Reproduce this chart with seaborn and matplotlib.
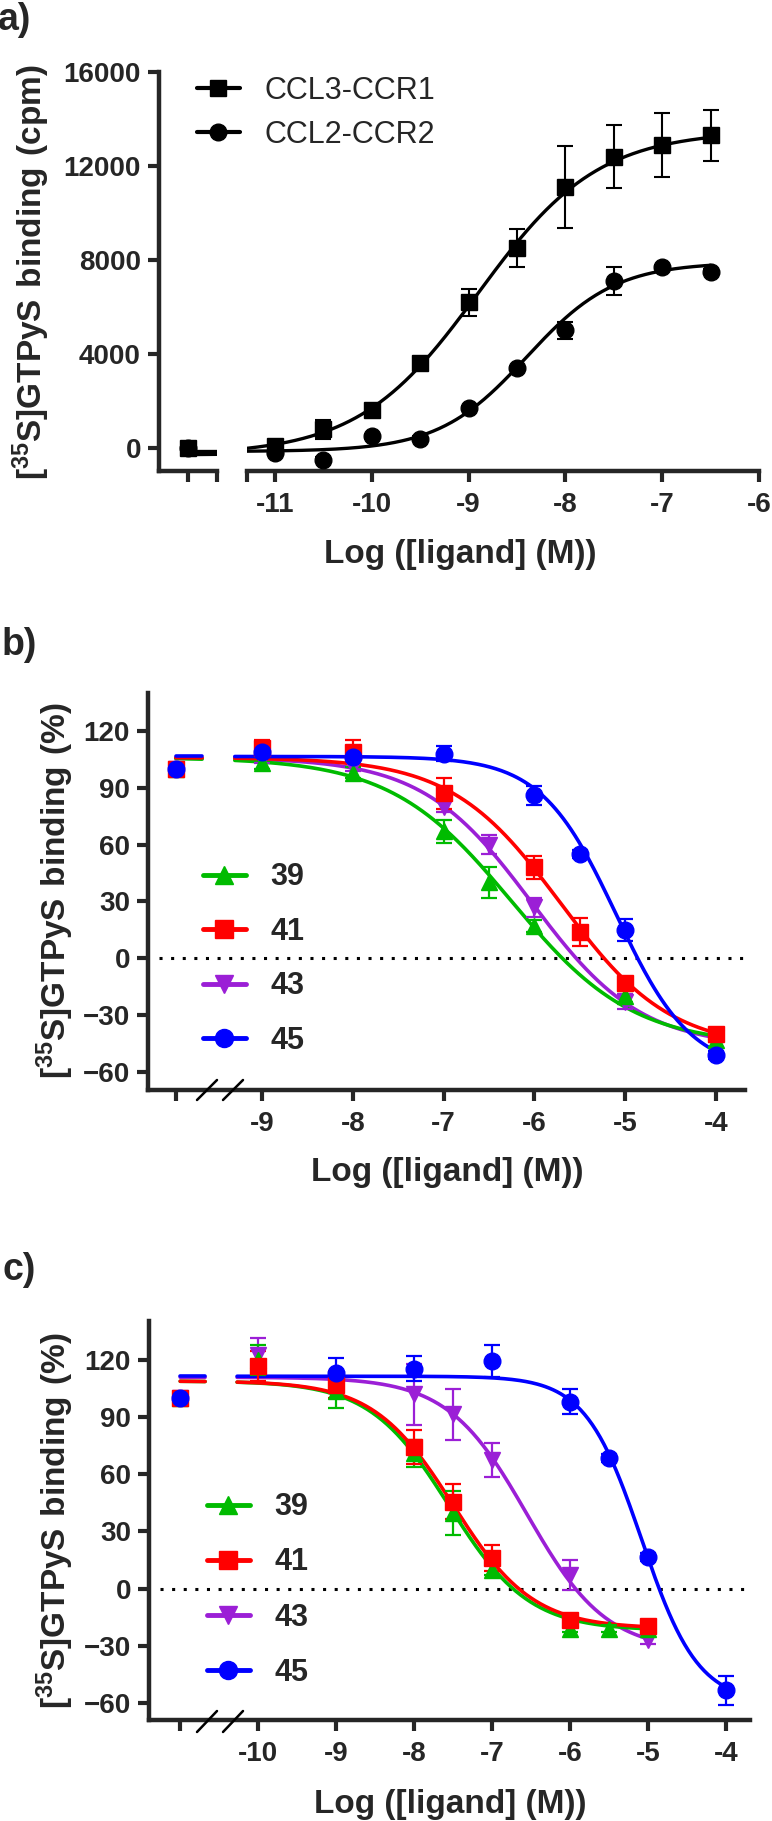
import numpy as np
import pandas as pd
import matplotlib
matplotlib.use('Agg')
import matplotlib.pyplot as plt
import seaborn as sns
from matplotlib.lines import Line2D

W, H = 772, 1821

sns.set_style('ticks')
plt.rcParams['font.family'] = ['Liberation Sans', 'DejaVu Sans']
plt.rcParams['font.weight'] = 'bold'
plt.rcParams['mathtext.fontset'] = 'custom'
plt.rcParams['mathtext.rm'] = 'Liberation Sans'
plt.rcParams['mathtext.bf'] = 'Liberation Sans:bold'

# ---- panel a: agonist curves (cpm) ----
a_labels = ['CCL3-CCR1', 'CCL2-CCR2']
a_markers = ['s', 'o']
a_ctrl_x = -13.0
a_x = [-11, -10.5, -10, -9.5, -9, -8.5, -8, -7.5, -7, -6.5]
a_ctrl_y = [0, 0]
a_y = [
    [100, 800, 1600, 3600, 6200, 8500, 11100, 12400, 12900, 13300],
    [-200, -500, 500, 400, 1700, 3400, 5000, 7100, 7700, 7500],
]
a_err = [
    [150, 400, 150, 150, 570, 800, 1750, 1350, 1350, 1100],
    [100, 100, 100, 100, 100, 100, 350, 600, 100, 100],
]
# 4PL fit: bottom, top, logEC50, hill
a_fit = [[-300, 13500, -8.9, 0.7], [-150, 7900, -8.4, 0.95]]

# ---- panels b and c: compounds (% binding) ----
compounds = ['39', '41', '43', '45']
colors = {'39': '#00BB00', '41': '#FF0000', '43': '#9B1FD6', '45': '#0000FF'}
markers = {'39': '^', '41': 's', '43': 'v', '45': 'o'}
draw_order = ['43', '39', '41', '45']

b_ctrl_x = -9.95
b_x = {
    '39': [-9, -8, -7, -6.5, -6, -5, -4],
    '41': [-9, -8, -7, -6, -5.5, -5, -4],
    '43': [-9, -8, -7, -6.5, -6, -5, -4],
    '45': [-9, -8, -7, -6, -5.5, -5, -4],
}
b_y = {
    '39': [103, 98, 67, 40, 17, -20, -43],
    '41': [111, 109, 87, 48, 14, -13, -40],
    '43': [105, 101, 80, 60, 27, -23, -42],
    '45': [109, 106, 108, 86, 55, 15, -51],
}
b_err = {
    '39': [3, 3, 6, 8, 3, 3, 4],
    '41': [4, 6, 8, 6, 7.5, 3, 3],
    '43': [2, 2, 3, 5, 5, 4, 2],
    '45': [3, 2, 4, 5, 2, 6, 2],
}
b_fit = {
    '39': [-46, 106, -6.25, -0.65],
    '41': [-48, 106, -5.71, -0.72],
    '43': [-47, 106, -6.03, -0.72],
    '45': [-60, 106.5, -5.1, -1.05],
}

c_ctrl_x = -11.0
c_x = {
    '39': [-10, -9, -8, -7.5, -7, -6, -5.5, -5],
    '41': [-10, -9, -8, -7.5, -7, -6, -5],
    '43': [-10, -9, -8, -7.5, -7, -6, -5],
    '45': [-9, -8, -7, -6, -5.5, -5, -4],
}
c_y = {
    '39': [120, 104, 71, 39.5, 10, -21, -21, -21],
    '41': [117, 107, 74.5, 45.7, 16, -16.7, -19.8],
    '43': [122.7, 110, 102, 91.5, 67.6, 7, -27],
    '45': [113.3, 115.4, 119.6, 98.2, 68.6, 16.6, -53.5],
}
c_err = {
    '39': [8, 9, 7, 11.5, 3, 2, 2, 2],
    '41': [8, 7, 9, 9, 7, 3, 3],
    '43': [9, 3, 16, 13.5, 9, 8, 2],
    '45': [8, 6.5, 8.5, 6.5, 2, 2, 7.5],
}
c_fit = {
    '39': [-22, 109, -7.55, -0.85],
    '41': [-21, 109, -7.5, -0.85],
    '43': [-33, 111, -6.55, -0.85],
    '45': [-60, 111.5, -5.08, -1.2],
}
ctrl_y = 100


def fit_curve(x, bottom, top, logec50, hill):
    return bottom + (top - bottom) / (1 + 10 ** ((logec50 - x) * hill))


def add_ax(fig, x0, x1, y0, y1):
    return fig.add_axes([x0 / W, 1 - y1 / H, (x1 - x0) / W, (y1 - y0) / H])


def style_ax(ax):
    for sp in ['top', 'right']:
        ax.spines[sp].set_visible(False)
    for sp in ['left', 'bottom']:
        ax.spines[sp].set_linewidth(3.2)
        ax.spines[sp].set_capstyle('projecting')
    ax.tick_params(width=3, length=8, labelsize=20, direction='out')
    ax.tick_params(axis='x', pad=7)
    ax.tick_params(axis='y', pad=5)
    ax.set_facecolor('none')


def px(x, y):
    return x / W, 1 - y / H


fig = plt.figure(figsize=(W / 100, H / 100), dpi=100)

# ---------------- panel a ----------------
ax_l = add_ax(fig, 159, 217, 72, 471)
ax_r = add_ax(fig, 247, 759, 72, 471)
for ax in (ax_l, ax_r):
    style_ax(ax)
    ax.set_ylim(-979, 16000)
ax_l.set_xlim(-13.3, -12.7)
ax_r.set_xlim(-11.29, -6)
ax_r.spines['left'].set_visible(False)
ax_r.tick_params(axis='y', left=False, labelleft=False)
ax_l.set_yticks([0, 4000, 8000, 12000, 16000])
ax_l.set_xticks([-13, -12.7])
ax_l.set_xticklabels(['', ''])
ax_r.set_xticks([-11.29, -11, -10, -9, -8, -7, -6])
ax_r.set_xticklabels(['', '-11', '-10', '-9', '-8', '-7', '-6'])

for i, lab in enumerate(a_labels):
    xs_l = np.linspace(a_ctrl_x, -12.7, 50)
    xs_r = np.linspace(-11.29, a_x[-1], 300)
    sns.lineplot(x=xs_l, y=fit_curve(xs_l, *a_fit[i]), ax=ax_l, color='black', lw=2.4)
    sns.lineplot(x=xs_r, y=fit_curve(xs_r, *a_fit[i]), ax=ax_r, color='black', lw=2.4)
for i in [1, 0]:
    ax_l.errorbar([a_ctrl_x], [a_ctrl_y[i]], yerr=[50], fmt=a_markers[i], color='black',
                  ms=12, capsize=6, elinewidth=1.5, capthick=1.5, clip_on=False, zorder=4)
    ax_r.errorbar(a_x, a_y[i], yerr=a_err[i], fmt=a_markers[i], color='black',
                  ms=12, capsize=6, elinewidth=1.5, capthick=1.5, clip_on=False, zorder=4)

a_handles = [Line2D([0], [0], color='black', marker=m, ms=12, lw=3) for m in a_markers]
ax_r.legend(a_handles, a_labels, loc='center left', bbox_to_anchor=px(197, 113),
            bbox_transform=fig.transFigure, frameon=False, borderpad=0, borderaxespad=0,
            handlelength=1.4, handletextpad=0.8, labelspacing=0.45,
            prop={'size': 22, 'weight': 'normal'})


# ---------------- panels b and c ----------------
def draw_panel(ax, ctrl_x, xd, yd, ed, fits, left_piece, main_start, main_end, legend_xy,
               spacing):
    style_ax(ax)
    rows = []
    for key in compounds:
        for name, lo, hi in [('left', left_piece[0], left_piece[1]),
                             ('main', main_start, main_end[key])]:
            xs = np.linspace(lo, hi, 250)
            rows.append(pd.DataFrame({'x': xs, 'y': fit_curve(xs, *fits[key]),
                                      'compound': key, 'piece': name}))
    df = pd.concat(rows, ignore_index=True)
    df['order'] = df['compound'].map({k: i for i, k in enumerate(draw_order)})
    df = df.sort_values(['order', 'piece', 'x'])
    sns.lineplot(data=df, x='x', y='y', hue='compound', units='piece', estimator=None,
                 palette=colors, hue_order=draw_order, lw=2.6, legend=False, ax=ax, sort=False)
    for key in draw_order:
        ax.errorbar([ctrl_x] + xd[key], [ctrl_y] + yd[key], yerr=[3] + ed[key],
                    fmt=markers[key], color=colors[key], ms=12, capsize=6,
                    elinewidth=1.6, capthick=1.6, clip_on=False, zorder=4)
    handles = [Line2D([0], [0], color=colors[k], marker=markers[k], ms=13, lw=3.5)
               for k in compounds]
    ax.legend(handles, compounds, loc='center left', bbox_to_anchor=px(*legend_xy),
              bbox_transform=fig.transFigure, frameon=False, borderpad=0, borderaxespad=0,
              handlelength=1.4, handletextpad=0.8, labelspacing=spacing,
              prop={'size': 22, 'weight': 'bold'})


ax_b = add_ax(fig, 148, 745, 693, 1090)
ax_b.set_xlim(-10.256, -3.68)
ax_b.set_ylim(-69.5, 140)
draw_panel(ax_b, b_ctrl_x, b_x, b_y, b_err, b_fit, (-9.95, -9.66), -9.3,
           {k: -4 for k in compounds}, (203, 959), 0.8)
ax_b.set_xticks([b_ctrl_x, -9, -8, -7, -6, -5, -4])
ax_b.set_xticklabels(['', '-9', '-8', '-7', '-6', '-5', '-4'])
ax_b.set_yticks([-60, -30, 0, 30, 60, 90, 120])
ax_b.axhline(0, xmin=11 / 597, xmax=1, color='black', lw=2.2, ls=(0, (1, 2.8)), zorder=1)

ax_c = add_ax(fig, 149, 750, 1321, 1720)
ax_c.set_xlim(-11.4, -3.69)
ax_c.set_ylim(-69, 140.5)
draw_panel(ax_c, c_ctrl_x, c_x, c_y, c_err, c_fit, (-11.0, -10.68), -10.27,
           {'39': -5, '41': -5, '43': -5, '45': -4}, (207, 1590), 0.82)
ax_c.set_xticks([c_ctrl_x, -10, -9, -8, -7, -6, -5, -4])
ax_c.set_xticklabels(['', '-10', '-9', '-8', '-7', '-6', '-5', '-4'])
ax_c.set_yticks([-60, -30, 0, 30, 60, 90, 120])
ax_c.axhline(0, xmin=11 / 601, xmax=1, color='black', lw=2.2, ls=(0, (1, 2.8)), zorder=1)

for ax in (ax_l, ax_r, ax_b, ax_c):
    ax.set_xlabel('')
    ax.set_ylabel('')

# axis-break slashes on b and c
for y_lo, y_hi in [(1100, 1080), (1732, 1711)]:
    for x0 in (197, 223):
        fig.add_artist(Line2D([x0 / W, (x0 + 20) / W], [1 - y_lo / H, 1 - y_hi / H],
                              color='black', lw=1.8, transform=fig.transFigure))

# labels
fig.text(*px(-2, 20), 'a)', fontsize=27, fontweight='bold', ha='left', va='center')
fig.text(*px(2, 645), 'b)', fontsize=27, fontweight='bold', ha='left', va='center')
fig.text(*px(2, 1270), 'c)', fontsize=27, fontweight='bold', ha='left', va='center')

fig.text(*px(31, 272), r'$\mathbf{[^{35}S]GTPyS\ binding\ (cpm)}$', fontsize=24,
         rotation=90, ha='center', va='center')
fig.text(*px(55, 891), r'$\mathbf{[^{35}S]GTPyS\ binding\ (\%)}$', fontsize=24,
         rotation=90, ha='center', va='center')
fig.text(*px(55, 1521), r'$\mathbf{[^{35}S]GTPyS\ binding\ (\%)}$', fontsize=24,
         rotation=90, ha='center', va='center')

for xc, yc in [(460, 555), (447, 1173), (450, 1804)]:
    fig.text(*px(xc, yc), 'Log ([ligand] (M))', fontsize=24, fontweight='bold',
             ha='center', va='center')

fig.savefig('out.png', dpi=100, facecolor='white')
